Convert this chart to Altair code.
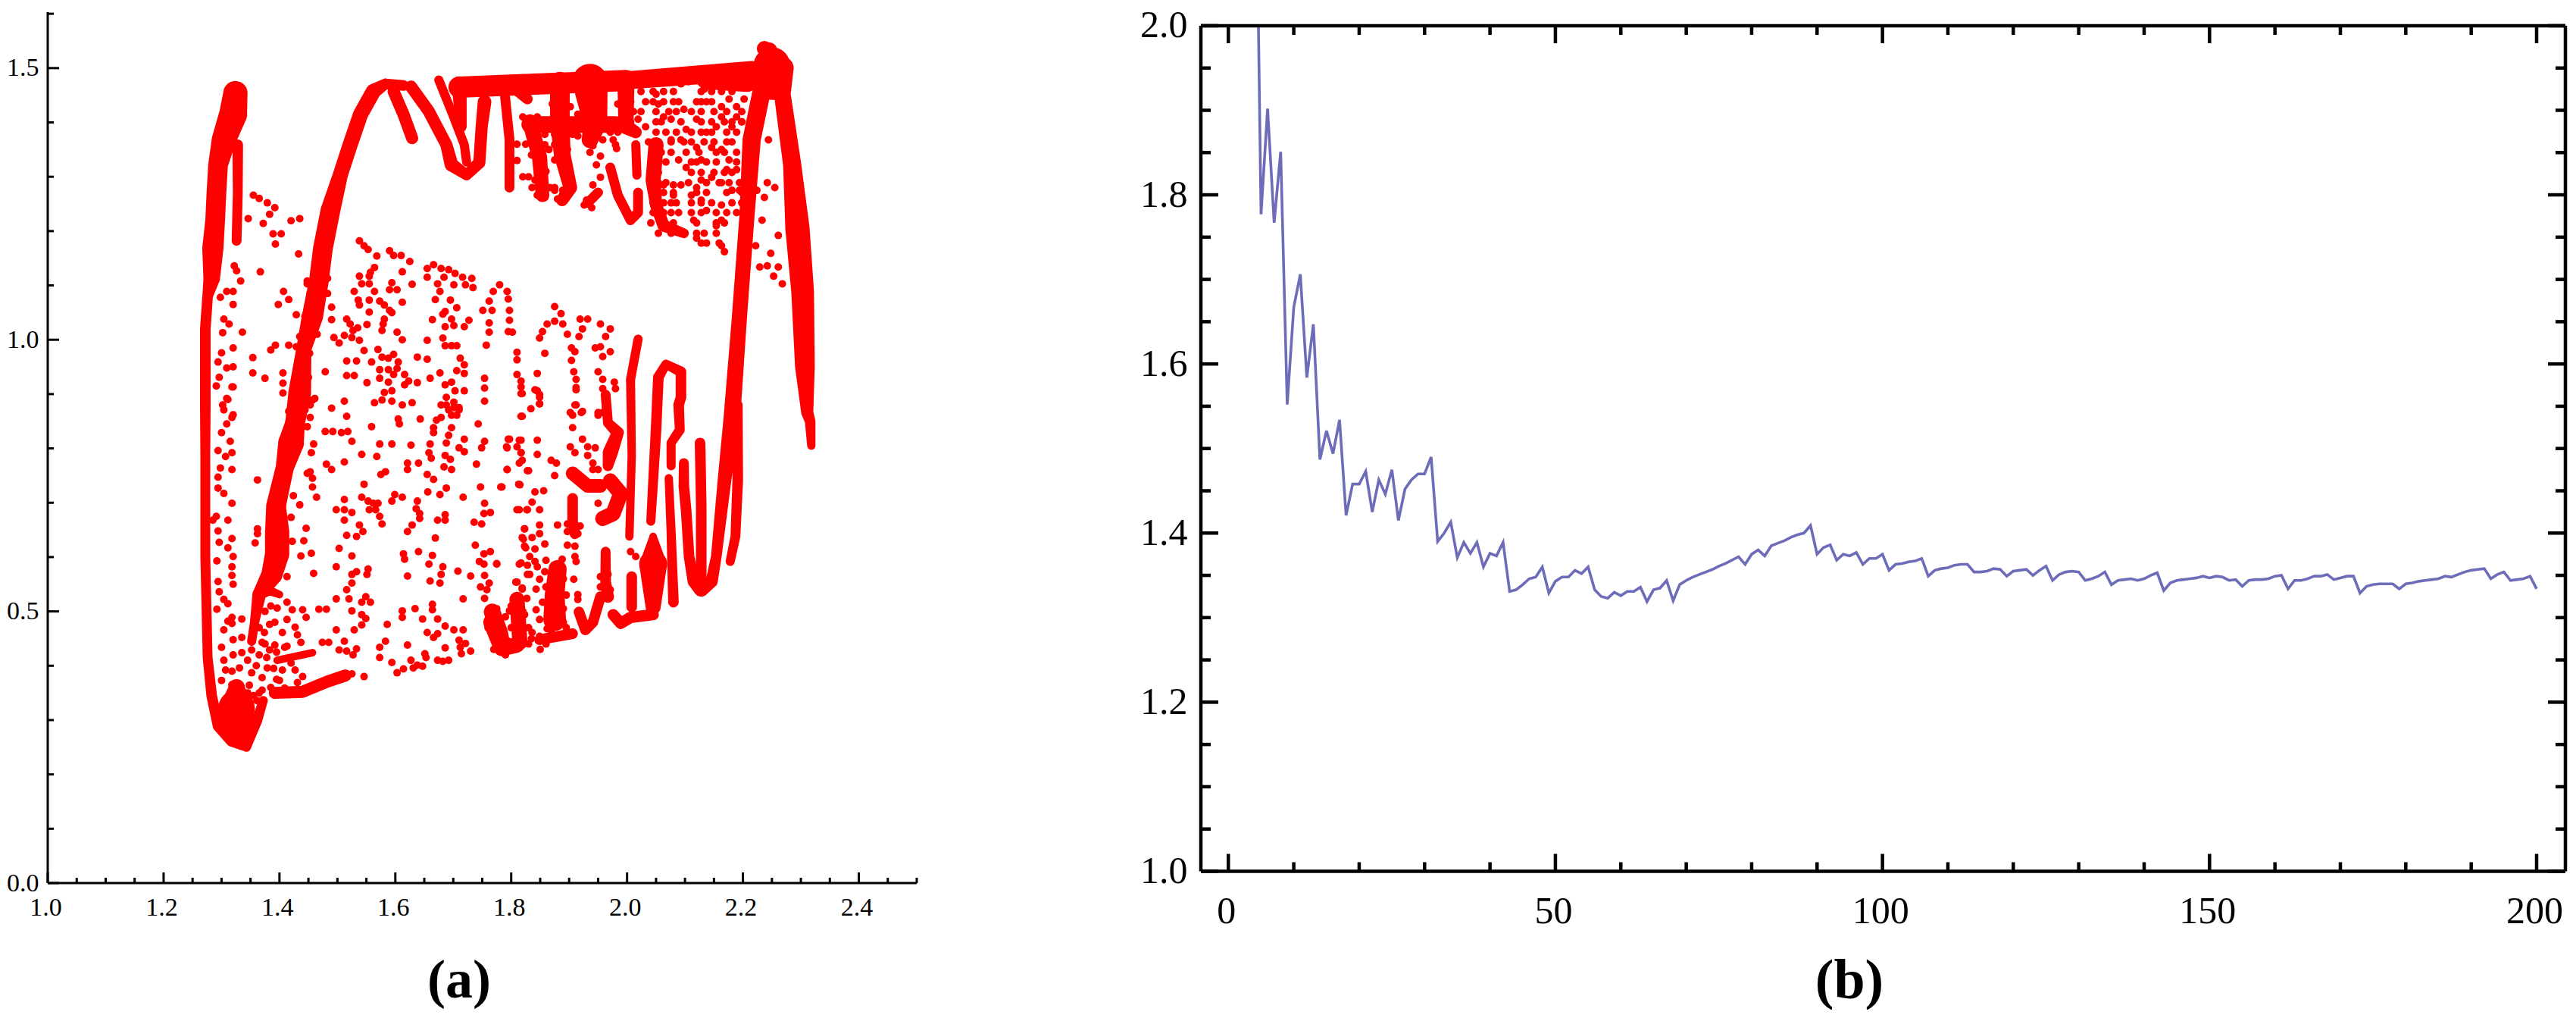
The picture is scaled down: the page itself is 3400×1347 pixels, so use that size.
import altair as alt
import pandas as pd

FONT = "Liberation Serif"
RED = "#ff0000"
BLUE = "#4747a6"

# ---------- panel (a): dense ribbons of the scatter as (x, y, ribbon width) ----------
band_left = [(1.324,1.454,30),(1.320,1.415,35),(1.304,1.368,30),(1.294,1.322,24),(1.291,1.266,24),(1.289,1.220,24),
             (1.285,1.168,26),(1.283,1.113,20),(1.276,1.080,12),(1.272,1.020,12),(1.272,.950,12),(1.272,.880,12),
             (1.272,.787,11),(1.272,.694,11),(1.272,.601,11),(1.274,.508,11),(1.276,.415,11),(1.283,.345,12),
             (1.294,.289,12),(1.318,.262,14),(1.343,.250,10),(1.361,.299,12),(1.372,.336,10)]
band_left2 = [(1.328,1.359,12),(1.328,1.270,11),(1.326,1.182,11)]
band_blob = [(1.326,.360,20),(1.326,.322,46),(1.328,.276,36),(1.342,.2575,12)]
band_floor = [(1.392,.350,14),(1.440,.352,14),(1.483,.371,14),(1.514,.382,14)]
band_floor2 = [(1.396,.410,8),(1.457,.424,8)]
band_loop = [(1.352,.445,10),(1.357,.480,10),(1.365,.531,12),(1.383,.538,10),(1.400,.531,8)]
band_rise = [(1.357,.480,10),(1.365,.531,16),(1.387,.568,26),(1.396,.606,30),(1.396,.647,30),(1.394,.694,24),
             (1.409,.764,22),(1.420,.810,32),(1.427,.847,24),(1.435,.903,28),(1.442,.983,18),(1.457,1.043,26),
             (1.468,1.108,24),(1.475,1.168,24),(1.488,1.238,24),(1.505,1.303,18),(1.522,1.359,18),(1.540,1.415,18),
             (1.562,1.457,18),(1.583,1.471,12),(1.614,1.468,12)]
band_b1 = [(1.597,1.457,14),(1.614,1.415,14),(1.629,1.371,14)]
band_b2 = [(1.627,1.466,14),(1.658,1.420,14),(1.688,1.359,14),(1.697,1.322,16),(1.723,1.303,12),(1.745,1.326,14),
           (1.749,1.392,14),(1.754,1.438,16)]
band_b3 = [(1.675,1.478,10),(1.697,1.420,10),(1.719,1.359,10),(1.723,1.327,10)]
band_top1 = [(1.710,1.465,26),(1.832,1.470,26),(1.998,1.477,26)]
band_bar2 = [(1.832,1.396,20),(1.980,1.396,20)]
band_b4 = [(1.788,1.462,11),(1.797,1.369,11),(1.797,1.280,11)]
band_b5 = [(1.788,1.475,10),(1.828,1.443,12)]
band_b6 = [(1.710,1.471,18),(1.714,1.392,12)]
band_t1 = [(1.884,1.475,24),(1.884,1.401,24),(1.888,1.341,20),(1.902,1.280,16),(1.888,1.257,14)]
band_t2 = [(1.832,1.401,18),(1.849,1.336,18),(1.854,1.266,16)]
band_t3 = [(1.936,1.475,45),(1.945,1.401,30),(1.936,1.368,20)]
band_t4 = [(1.998,1.461,20),(1.998,1.392,18),(2.015,1.382,14)]
band_t5 = [(1.971,1.317,11),(1.984,1.266,11),(2.006,1.220,11),(2.019,1.234,11),(2.019,1.271,11)]
band_t6 = [(1.932,1.252,11),(1.950,1.271,11)]
band_t7 = [(2.050,1.359,18),(2.045,1.294,18),(2.050,1.248,14),(2.063,1.210,14),(2.098,1.196,11)]
band_t8 = [(2.015,1.359,10),(2.017,1.303,10)]
band_top2 = [(2.006,1.478,22),(2.215,1.495,24)]
band_top3 = [(2.137,1.480,25),(2.207,1.475,25)]
band_peak = [(2.245,1.532,20),(2.250,1.505,46),(2.252,1.475,46)]
band_u = [(2.076,.768,10),(2.076,.810,10),(2.091,.834,11),(2.089,.880,12),(2.093,.894,12),(2.093,.941,12),
          (2.067,.955,10),(2.054,.931,12),(2.050,.834,12),(2.045,.740,11),(2.041,.666,10)]
band_up = [(2.098,.773,11),(2.098,.731,12),(2.102,.685,12),(2.107,.601,12),(2.115,.555,14),(2.128,.541,18),
           (2.146,.555,14),(2.154,.601,12),(2.168,.740,16),(2.181,.857,20),(2.194,1.043,18),(2.207,1.229,18),
           (2.215,1.368,22),(2.233,1.461,22),(2.242,1.527,20)]
band_down = [(2.237,1.536,18),(2.268,1.500,28),(2.268,1.452,20),(2.285,1.322,22),(2.294,1.206,30),(2.303,1.089,28),
             (2.307,.950,24),(2.311,.866,14),(2.316,.850,12),(2.318,.805,9)]
band_stem = [(2.126,.810,12),(2.128,.694,12),(2.128,.555,12)]
band_right = [(2.191,.880,11),(2.191,.740,12),(2.187,.638,11),(2.178,.592,10)]
band_s1 = [(2.019,1.001,10),(2.006,.927,10),(2.008,.787,9),(2.004,.638,9)]
band_s2 = [(2.072,.745,9),(2.076,.647,10),(2.080,.517,12)]
band_tri = [(2.045,.638,8),(2.045,.587,35),(2.045,.508,18)]
band_s3 = [(2.008,.564,12),(2.008,.508,12)]
band_fl1 = [(1.976,.494,13),(1.989,.478,13),(2.006,.489,13),(2.045,.494,13)]
band_fl2 = [(1.917,.499,12),(1.928,.466,12),(1.941,.480,12),(1.954,.527,12)]
band_s4 = [(1.963,.610,11),(1.963,.554,12),(1.967,.527,14)]
band_bl1 = [(1.880,.578,22),(1.875,.531,24),(1.875,.485,28)]
band_fl3 = [(1.849,.448,12),(1.906,.459,12)]
band_bl2 = [(1.767,.499,20),(1.780,.461,20),(1.784,.438,20)]
band_bl3 = [(1.810,.522,18),(1.815,.443,18)]
band_fl4 = [(1.766,.480,20),(1.784,.433,20),(1.810,.438,18)]
band_bl4 = [(1.906,.754,16),(1.932,.731,16),(1.954,.731,16)]
band_s5 = [(1.906,.708,12),(1.906,.666,12),(1.910,.643,12)]
band_bl5 = [(1.971,.740,18),(1.989,.717,18),(1.976,.680,18),(1.958,.671,18)]
band_s6 = [(1.963,.899,11),(1.967,.847,11),(1.984,.829,14),(1.971,.792,18),(1.967,.768,12)]
all_bands = [band_left, band_left2, band_blob, band_floor, band_floor2, band_loop, band_rise, band_b1, band_b2, band_b3,
             band_top1, band_bar2, band_b4, band_b5, band_b6, band_t1, band_t2, band_t3, band_t4, band_t5, band_t6, band_t7, band_t8,
             band_top2, band_top3, band_peak, band_u, band_up, band_down, band_stem, band_right, band_s1, band_s2, band_tri, band_s3,
             band_fl1, band_fl2, band_s4, band_bl1, band_fl3, band_bl2, band_bl3, band_fl4, band_bl4, band_s5, band_bl5, band_s6]

# ---------- panel (a): individual points ----------
dots_ul = [(1.355,1.266),(1.365,1.260),(1.379,1.252),(1.392,1.243),(1.383,1.231),(1.346,1.223),(1.372,1.214),(1.420,1.219),
           (1.435,1.223),(1.389,1.195),(1.403,1.195),(1.393,1.176),(1.433,1.158),(1.367,1.125),(1.407,1.089),(1.416,1.074),
           (1.398,1.065),(1.429,1.046),(1.336,1.014),(1.393,.990),(1.385,.981),(1.416,.990),(1.354,.967),(1.354,.939),
           (1.375,.929),(1.406,.939),(1.406,.920),(1.406,.902),(1.479,.941),(1.490,.874),(1.512,.887),(1.490,1.060),(1.490,1.037),
           (1.322,1.136),(1.326,1.127),(1.333,1.108),(1.309,1.089),(1.320,1.089),(1.320,1.065),(1.298,1.078),(1.304,1.038),
           (1.313,1.029),(1.302,1.013),(1.320,.985),(1.300,.976),(1.294,.959),(1.309,.948),(1.320,.950),(1.296,.931),(1.291,.915),
           (1.320,.913),(1.311,.890),(1.304,.871),(1.320,.862),(1.448,1.103),(1.483,1.113),(1.453,1.085),(1.483,1.085),
           (1.427,.894),(1.457,.889),(1.418,.871),(1.444,.871),(1.448,1.108),(1.444,1.043),(1.435,1.006),(1.429,.987),
           (1.440,.950),(1.431,.936),(1.450,.931),(1.462,1.063),(1.465,1.010),(1.452,.975),(1.444,.955),(1.460,1.020),(1.434,.960)]
dots_um = [(1.538,1.182),(1.546,1.173),(1.553,1.166),(1.568,1.154),(1.590,1.164),(1.597,1.155),(1.610,1.155),(1.625,1.144),
           (1.564,1.133),(1.557,1.124),(1.612,1.125),(1.538,1.117),(1.555,1.117),(1.542,1.103),(1.555,1.103),(1.594,1.105),
           (1.590,1.092),(1.603,1.092),(1.629,1.102),(1.655,1.131),(1.666,1.138),(1.679,1.131),(1.692,1.129),(1.703,1.122),
           (1.655,1.115),(1.673,1.103),(1.684,1.115),(1.701,1.101),(1.716,1.115),(1.732,1.113),(1.721,1.101),(1.734,1.096),
           (1.677,1.089),(1.529,1.089),(1.536,1.073),(1.538,1.064),(1.564,1.089),(1.555,1.073),(1.573,1.071),(1.581,1.064),
           (1.590,1.054),(1.594,1.050),(1.612,1.069),(1.555,1.051),(1.516,1.038),(1.522,1.029),(1.535,1.022),(1.551,1.028),
           (1.527,1.017),(1.581,1.038),(1.579,1.029),(1.577,1.017),(1.603,1.014),(1.612,1.000),(1.512,1.008),(1.494,1.004),
           (1.503,.994),(1.525,1.004),(1.538,.999),(1.546,.980),(1.516,.961),(1.533,.961),(1.516,.934),(1.529,.934),(1.551,.921),
           (1.564,.884),(1.577,.889),(1.570,.982),(1.577,.968),(1.559,.959),(1.588,.966),(1.597,.973),(1.605,.959),(1.573,.945),
           (1.588,.945),(1.603,.947),(1.573,.929),(1.588,.922),(1.597,.936),(1.638,.968),(1.655,.964),(1.660,.929),(1.677,.939),
           (1.616,.936),(1.616,.917),(1.623,.924),(1.638,.921),(1.686,.917),(1.697,.922),(1.703,.906),(1.719,.906),(1.581,.903),
           (1.594,.906),(1.594,.887),(1.612,.880),(1.629,.884),(1.664,1.037),(1.686,1.052),(1.682,1.047),(1.697,1.038),(1.706,1.059),
           (1.701,1.026),(1.719,1.024),(1.727,1.036),(1.686,1.024),(1.695,1.073),(1.655,.999),(1.669,1.074),(1.682,1.003),
           (1.686,.989),(1.706,.989),(1.697,.989),(1.712,.966),(1.719,.954),(1.706,.943),(1.719,.938),(1.757,.990),(1.751,1.054),
           (1.767,1.054),(1.762,1.071),(1.769,1.089),(1.780,1.101),(1.793,1.089),(1.795,1.075),(1.797,1.054),(1.797,1.036),
           (1.762,1.031),(1.762,1.014),(1.802,1.014),(1.795,1.015),(1.810,.977),(1.810,.963),(1.810,.936),(1.817,.924),(1.819,.901),
           (1.754,.929),(1.754,.911),(1.754,.887),(1.688,.894),(1.701,.885),(1.692,.871),(1.710,.871)]
dots_ll = [(1.318,.913),(1.309,.892),(1.302,.880),(1.318,.857),(1.309,.845),(1.300,.829),(1.315,.813),(1.294,.796),(1.318,.792),
           (1.307,.785),(1.298,.764),(1.318,.761),(1.294,.747),(1.294,.727),(1.304,.717),(1.318,.699),(1.291,.675),(1.285,.668),
           (1.311,.668),(1.294,.648),(1.318,.634),(1.296,.627),(1.311,.617),(1.320,.601),(1.292,.593),(1.318,.582),(1.318,.566),
           (1.320,.550),(1.294,.555),(1.296,.536),(1.304,.522),(1.311,.514),(1.292,.504),(1.318,.489),(1.311,.482),(1.318,.478),
           (1.304,.466),(1.320,.448),(1.335,.452),(1.335,.486),(1.362,.742),(1.362,.652),(1.362,.643),(1.358,.626),
           (1.335,.424),(1.352,.429),(1.370,.443),(1.383,.429),(1.409,.434),(1.331,.396),(1.352,.387),(1.370,.378),(1.379,.396),
           (1.405,.392),(1.427,.392),(1.431,.369),(1.400,.373),(1.409,.359),(1.365,.350),(1.348,.364),(1.300,.434),(1.304,.410),
           (1.307,.392),(1.331,.364),(1.361,.336),(1.300,.373),(1.396,.506),(1.413,.517),(1.422,.503),(1.440,.503),(1.446,.489),
           (1.413,.485),(1.427,.471),(1.431,.457),(1.383,.476),(1.392,.480),(1.405,.461),(1.374,.461),(1.392,.438),(1.413,.436),
           (1.437,.443),(1.461,.892),(1.453,.880),(1.416,.868),(1.440,.868),(1.453,.857),(1.448,.840),(1.416,.847),(1.453,.757),
           (1.457,.745),(1.457,.729),(1.448,.754),(1.435,.696),(1.424,.713),(1.405,.694),(1.420,.673),(1.409,.652),(1.422,.629),
           (1.413,.564),(1.400,.587),(1.379,.573),(1.345,.410),(1.360,.400),(1.378,.415),(1.395,.425),(1.390,.395),(1.345,.350),
           (1.385,.360),(1.355,.345),(1.370,.355),(1.395,.375),(1.420,.405),(1.440,.380),(1.365,.420),(1.320,.420),(1.318,.390),
           (1.318,.365),(1.375,.500),(1.385,.510),(1.365,.470),(1.375,.440)]
dots_lm = [(1.516,.859),(1.559,.840),(1.605,.854),(1.607,.845),(1.643,.854),(1.743,.845),(1.479,.831),(1.492,.831),(1.507,.829),
           (1.518,.831),(1.525,.813),(1.459,.808),(1.455,.792),(1.573,.808),(1.594,.808),(1.627,.806),(1.542,.789),(1.568,.785),
           (1.512,.775),(1.481,.771),(1.490,.761),(1.621,.773),(1.621,.761),(1.575,.752),(1.583,.757),(1.546,.734),(1.655,.752),
           (1.666,.743),(1.656,.720),(1.677,.715),(1.688,.727),(1.717,.710),(1.464,.710),(1.512,.706),(1.498,.687),(1.512,.687),
           (1.525,.682),(1.512,.668),(1.542,.710),(1.553,.703),(1.562,.699),(1.570,.699),(1.555,.687),(1.566,.687),(1.573,.675),
           (1.577,.661),(1.599,.715),(1.594,.703),(1.612,.710),(1.638,.703),(1.636,.689),(1.642,.680),(1.642,.671),(1.673,.668),
           (1.686,.668),(1.686,.678),(1.629,.659),(1.621,.647),(1.538,.659),(1.544,.647),(1.533,.638),(1.516,.640),(1.669,.635),
           (1.503,.616),(1.525,.602),(1.614,.606),(1.616,.596),(1.640,.610),(1.664,.603),(1.658,.587),(1.437,.602),(1.455,.607),
           (1.442,.630),(1.446,.653),(1.498,.582),(1.459,.570),(1.533,.573),(1.525,.568),(1.553,.578),(1.551,.568),(1.682,.582),
           (1.679,.568),(1.677,.552),(1.621,.565),(1.660,.556),(1.708,.574),(1.730,.565),(1.525,.552),(1.516,.540),(1.498,.523),
           (1.520,.523),(1.549,.527),(1.542,.517),(1.557,.517),(1.717,.523),(1.468,.504),(1.481,.504),(1.525,.501),(1.542,.494),
           (1.549,.487),(1.542,.475),(1.529,.466),(1.498,.466),(1.634,.505),(1.664,.513),(1.664,.503),(1.612,.501),(1.612,.489),
           (1.586,.476),(1.647,.486),(1.673,.486),(1.686,.473),(1.701,.466),(1.717,.466),(1.655,.461),(1.666,.452),(1.673,.459),
           (1.474,.443),(1.485,.443),(1.512,.445),(1.503,.429),(1.516,.427),(1.527,.420),(1.533,.431),(1.573,.434),(1.583,.445),
           (1.573,.415),(1.621,.438),(1.686,.433),(1.594,.406),(1.614,.394),(1.603,.387),(1.651,.422),(1.653,.415),(1.627,.410),
           (1.638,.401),(1.647,.399),(1.631,.396),(1.673,.410),(1.682,.408),(1.692,.410),(1.710,.447),(1.721,.441),(1.714,.422),
           (1.730,.427),(1.712,.434),(1.546,.380),(1.525,.385),(1.738,.622),(1.753,.606),(1.764,.610),(1.745,.592),(1.753,.587),
           (1.775,.588),(1.754,.566),(1.762,.552),(1.747,.545),(1.758,.540),(1.754,.524),(1.736,.664),(1.749,.661),(1.753,.680),
           (1.764,.682),(1.754,.699),(1.747,.729),(1.782,.729),(1.815,.733),(1.740,.771),(1.793,.761),(1.828,.759),(1.792,.803),
           (1.797,.817),(1.817,.815),(1.810,.803),(1.817,.792),(1.819,.778),(1.749,.801),(1.754,.813),(1.819,.859),(1.810,.554),
           (1.819,.543),(1.828,.568),(1.828,.585),(1.817,.589),(1.823,.652),(1.821,.633),(1.825,.617),(1.810,.687),(1.828,.687),
           (1.679,.880),(1.688,.880),(1.701,.875),(1.710,.875),(1.697,.861),(1.706,.861),(1.679,.857),(1.671,.852),(1.666,.838),
           (1.697,.838),(1.666,.829),(1.692,.824),(1.660,.808),(1.658,.792),(1.662,.782),(1.640,.773),(1.688,.810),(1.686,.787),
           (1.695,.780),(1.684,.766),(1.697,.761),(1.710,.801),(1.719,.794),(1.719,.817)]
dots_lr = [(1.912,.912),(1.910,.880),(1.906,.861),(1.923,.868),(1.906,.838),(1.923,.817),(1.932,.803),(1.945,.801),(1.932,.787),
           (1.902,.803),(1.910,.792),(1.941,.773),(1.941,.761),(1.950,.761),(1.950,.866),(1.958,.866),(1.950,.699),(1.880,.659),
           (1.897,.661),(1.919,.657),(1.915,.643),(1.897,.647),(1.897,.622),(1.910,.620),(1.910,.601),(1.912,.592),(1.888,.596),
           (1.963,.585),(1.954,.564),(1.967,.568),(1.954,.545),(1.971,.540),(1.915,.531),(1.915,.522),(1.908,.559),(1.823,.652),
           (1.819,.636),(1.836,.636),(1.849,.659),(1.849,.643),(1.858,.624),(1.823,.620),(1.841,.615),(1.832,.601),(1.814,.587),
           (1.841,.592),(1.860,.594),(1.845,.582),(1.832,.568),(1.858,.573),(1.849,.559),(1.808,.554),(1.819,.541),(1.843,.541),
           (1.827,.524),(1.810,.527),(1.854,.517),(1.843,.503),(1.862,.513),(1.823,.494),(1.819,.485),(1.797,.501),(1.849,.485),
           (1.836,.461),(1.862,.468),(1.849,.454),(1.814,.815),(1.817,.792),(1.814,.773),(1.793,.801),(1.795,.817),(1.845,.815),
           (1.845,.789),(1.793,.761),(1.830,.759),(1.869,.778),(1.878,.773),(1.875,.750),(1.784,.729),(1.813,.734),(1.841,.720),
           (1.856,.722),(1.836,.701),(1.814,.687),(1.827,.687),(1.849,.687),(1.817,.913),(1.817,.901),(1.841,.908),(1.849,.899),
           (1.849,.882),(1.834,.873),(1.817,.859),(1.775,.587),(2.006,.610),(2.015,.601),
           (1.875,1.061),(1.886,1.048),(1.875,1.034),(1.862,1.029),(1.854,1.015),(1.849,1.003),(1.889,1.029),(1.897,1.010),
           (1.919,1.038),(1.932,1.038),(1.923,1.020),(1.917,1.006),(1.954,1.029),(1.971,1.020),(1.963,1.006),(1.954,.987),
           (1.945,.985),(1.971,.978),(1.958,.969),(1.904,.985),(1.910,.978),(1.904,.962),(1.858,.975),(1.845,.938),(1.845,.906),
           (1.849,.894),(1.849,.882),(1.908,.941),(1.912,.927),(1.912,.908),(1.950,.941),(1.958,.927),(1.958,.910),(1.978,.922),
           (1.980,.910),(1.912,.880),(1.902,.866),(1.921,.866),(1.963,.894),(1.963,.871),(1.950,.861),
           (1.760,.470),(1.775,.505),(1.790,.490),(1.800,.470),(1.830,.440),(1.790,.420),(1.770,.430),(1.820,.500),(1.800,.510),
           (1.830,.470),(1.860,.440),(1.850,.430),(1.870,.460),(1.895,.470),(1.795,.445),(1.835,.450),(1.890,.505),(1.895,.530),
           (1.860,.545),(1.890,.560),(1.865,.500),(1.890,.480)]
dots_top = [(2.024,1.457),(2.032,1.438),(2.050,1.452),(2.054,1.434),(2.076,1.475),(2.093,1.471),(2.106,1.475),(2.133,1.461),
            (2.120,1.438),(2.137,1.438),(2.089,1.438),(2.098,1.424),(2.063,1.410),(2.076,1.406),(2.024,1.420),(2.032,1.392),
            (2.102,1.387),(2.120,1.406),(2.137,1.382),(2.146,1.401),(2.163,1.429),(2.189,1.429),(2.163,1.410),(2.189,1.410),
            (2.154,1.392),(2.181,1.392),(2.198,1.401),(2.202,1.443),(2.176,1.443),(2.019,1.406),(2.111,1.364),(2.120,1.354),
            (2.093,1.368),(2.076,1.368),(2.089,1.331),(2.102,1.317),(2.111,1.327),(2.128,1.331),(2.146,1.354),(2.163,1.350),
            (2.176,1.331),(2.172,1.313),(2.189,1.313),(2.163,1.289),(2.146,1.299),(2.128,1.294),(2.093,1.285),(2.080,1.285),
            (2.063,1.285),(2.111,1.266),(2.120,1.280),(2.181,1.275),(2.194,1.275),(2.128,1.257),(2.137,1.238),(2.163,1.248),
            (2.163,1.220),(2.154,1.210),(2.115,1.220),(2.120,1.187),(2.137,1.178),(2.163,1.173),(2.168,1.162),(2.085,1.252),
            (2.080,1.266),(2.089,1.234),(2.224,1.275),(2.255,1.280),(2.242,1.289),(2.237,1.262),(2.233,1.220),(2.261,1.192),
            (2.222,1.173),(2.248,1.159),(2.229,1.134),(2.242,1.136),(2.253,1.117),(2.268,1.103),(2.261,1.134),(2.244,1.368),
            (1.915,1.375),(1.906,1.378),(1.941,1.357),(1.982,1.352),(1.947,1.322),(1.954,1.338),(1.941,1.285),(1.954,1.299),
            (2.017,1.327),(2.015,1.350),(1.980,1.359),(1.984,1.434),(1.993,1.415),(1.902,1.429),(1.915,1.415),(1.926,1.392),
            (1.950,1.396),(1.867,1.280),(1.875,1.280),(1.845,1.266),(1.858,1.262),(1.880,1.259),(1.891,1.257),(1.926,1.248),
            (1.939,1.243),(1.930,1.257),(1.836,1.280),(1.889,1.275),(1.897,1.280),(1.902,1.299),(1.895,1.317),(1.875,1.331),
            (1.841,1.350),(1.845,1.331),(1.897,1.350),(1.810,1.360),(1.810,1.330),(1.820,1.300),(1.830,1.300),(1.825,1.360),
            (1.835,1.340),(1.820,1.410),(1.845,1.410),(1.860,1.310),(1.865,1.350),(1.870,1.390)]
dots_lattice = [(2.006,1.457),(2.045,1.457),(2.063,1.457),(2.080,1.457),(2.128,1.457),(2.146,1.457),(2.163,1.457),(2.181,1.457),
                (2.006,1.438),(2.045,1.438),(2.063,1.438),(2.080,1.438),(2.128,1.438),(2.146,1.438),
                (2.011,1.420),(2.050,1.420),(2.072,1.420),(2.085,1.420),(2.111,1.420),(2.128,1.420),(2.150,1.420),(2.172,1.420),(2.198,1.420),
                (2.006,1.401),(2.050,1.401),(2.059,1.401),(2.093,1.401),(2.128,1.401),(2.168,1.401),(2.181,1.401),(2.198,1.401),
                (2.015,1.382),(2.050,1.382),(2.067,1.382),(2.085,1.382),(2.111,1.382),(2.128,1.382),(2.146,1.382),(2.172,1.382),(2.189,1.382),
                (2.037,1.364),(2.054,1.364),(2.076,1.364),(2.098,1.364),(2.133,1.364),(2.150,1.364),(2.172,1.364),(2.181,1.364),
                (2.045,1.345),(2.059,1.345),(2.076,1.345),(2.102,1.345),(2.124,1.345),(2.154,1.345),(2.168,1.345),(2.189,1.345),
                (2.041,1.327),(2.054,1.327),(2.067,1.327),(2.120,1.327),(2.137,1.327),(2.154,1.327),(2.189,1.327),
                (2.041,1.308),(2.054,1.308),(2.111,1.308),(2.128,1.308),(2.150,1.308),(2.168,1.308),(2.181,1.308),
                (2.041,1.289),(2.054,1.289),(2.067,1.289),(2.106,1.289),(2.137,1.289),(2.159,1.289),(2.176,1.289),(2.194,1.289),
                (2.045,1.271),(2.063,1.271),(2.080,1.271),(2.120,1.271),(2.137,1.271),(2.172,1.271),(2.198,1.271),
                (2.045,1.252),(2.063,1.252),(2.076,1.252),(2.111,1.252),(2.128,1.252),(2.146,1.252),(2.181,1.252),(2.198,1.252),
                (2.045,1.234),(2.063,1.234),(2.076,1.234),(2.111,1.234),(2.128,1.234),(2.154,1.234),(2.172,1.234),(2.189,1.234),
                (2.041,1.215),(2.059,1.215),(2.080,1.215),(2.120,1.215),(2.154,1.215),(2.168,1.215),
                (2.054,1.196),(2.076,1.196),(2.093,1.196),(2.120,1.196),(2.133,1.196),(2.154,1.196),(2.128,1.178),(2.159,1.178),
                (1.871,1.461),(1.871,1.434),(1.871,1.406),(1.875,1.378),(1.858,1.378),(1.841,1.378),(1.858,1.359),(1.875,1.359),
                (1.849,1.303),(1.841,1.294),(1.858,1.280),(1.875,1.275),(1.893,1.378),(1.906,1.396),(1.928,1.452),(1.954,1.452),
                (1.928,1.420),(1.954,1.420),(1.963,1.392),(1.971,1.382),(1.984,1.382),(2.006,1.438),(1.989,1.461),(1.963,1.471),
                (1.932,1.368),(1.958,1.368),(1.976,1.368),(1.936,1.345)]
all_dots = dots_ul + dots_um + dots_ll + dots_lm + dots_lr + dots_top + dots_lattice

# ---------- panel (b): line ----------
line_x = [4.6] + list(range(5, 201))
line_y = [2.0,1.777,1.902,1.767,1.851,1.552,1.667,1.706,1.584,1.647,1.487,1.521,1.494,1.534,1.421,
          1.458,1.458,1.473,1.425,1.463,1.446,1.475,1.415,1.452,1.463,1.470,1.470,1.490,1.390,1.400,1.413,1.371,1.389,1.376,1.389,1.360,
          1.376,1.373,1.389,1.331,1.333,1.339,1.346,1.348,1.360,1.329,1.343,1.348,1.348,1.356,1.352,1.360,1.333,1.325,1.323,1.330,1.326,1.331,
          1.331,1.336,1.319,1.333,1.335,1.344,1.320,1.339,1.344,1.348,1.351,1.354,1.357,1.361,1.364,1.368,1.372,1.363,1.375,1.380,1.373,1.385,
          1.388,1.391,1.395,1.398,1.400,1.409,1.375,1.383,1.386,1.368,1.375,1.373,1.377,1.363,1.370,1.370,1.375,1.356,1.363,1.364,1.366,
          1.367,1.370,1.349,1.356,1.358,1.359,1.362,1.363,1.363,1.354,1.354,1.355,1.358,1.357,1.349,1.355,1.356,1.357,1.350,1.356,1.361,
          1.344,1.351,1.354,1.355,1.354,1.344,1.346,1.349,1.354,1.339,1.344,1.345,1.346,1.344,1.346,1.350,1.353,1.332,1.341,1.344,1.345,1.346,
          1.347,1.349,1.347,1.349,1.348,1.344,1.345,1.337,1.344,1.345,1.345,1.346,1.349,1.350,1.334,1.344,1.344,1.346,1.349,1.349,1.351,1.345,
          1.347,1.349,1.349,1.329,1.337,1.339,1.340,1.340,1.340,1.334,1.340,1.341,1.343,1.344,1.345,1.346,1.349,1.348,1.351,1.354,1.356,1.357,
          1.358,1.346,1.351,1.354,1.344,1.345,1.346,1.349,1.334]

# ---------- ticks and labels ----------
a_x_major = [1.0,1.2,1.4,1.6,1.8,2.0,2.2,2.4]
a_x_minor = [1.05,1.1,1.15,1.25,1.3,1.35,1.45,1.5,1.55,1.65,1.7,1.75,1.85,1.9,1.95,2.05,2.1,2.15,2.25,2.3,2.35,2.45,2.5]
a_y_major = [0.0,0.5,1.0,1.5]
a_y_minor = [0.1,0.2,0.3,0.4,0.6,0.7,0.8,0.9,1.1,1.2,1.3,1.4,1.6]
b_x_major = [0,50,100,150,200]
b_x_minor = [10,20,30,40,60,70,80,90,110,120,130,140,160,170,180,190]
b_y_major = [1.0,1.2,1.4,1.6,1.8,2.0]
b_y_minor = [1.05,1.1,1.15,1.25,1.3,1.35,1.45,1.5,1.55,1.65,1.7,1.75,1.85,1.9,1.95]

A_W, A_H = 1147, 1149
B_W, B_H = 1801, 1149
ax_scale = alt.Scale(domain=[1.0, 2.5], nice=False, zero=False)
ay_scale = alt.Scale(domain=[0.0, 1.603], nice=False, zero=False)
bx_scale = alt.Scale(domain=[-4.2, 204.4], nice=False, zero=False)
by_scale = alt.Scale(domain=[0.9861, 2.0161], nice=False, zero=False)
B_TOP, B_BOT = 18, 1133.5


def make_axis(values, fmt, size, padding, offset=0):
    return alt.Axis(values=values, format=fmt, domain=False, ticks=False, grid=False, labelFont=FONT, title=None,
                    labelFontSize=size, labelPadding=padding, labelOffset=offset, labelColor="black", labelFlush=False)


ax_axis = make_axis(a_x_major, ".1f", 34, 15, -3)
ay_axis = make_axis(a_y_major, ".1f", 34, 12)
bx_axis = make_axis(b_x_major, "d", 50, 12, -3)
by_axis = make_axis(b_y_major, ".1f", 50, 18)


def frame(vals):
    return pd.DataFrame({"v": vals})


def vticks(vals, scale, axis, top, length, width):
    return alt.Chart(frame(vals)).mark_rule(color="black", strokeWidth=width).encode(
        x=alt.X("v:Q", scale=scale, axis=axis), y=alt.value(top), y2=alt.value(top + length))


def hticks(vals, scale, axis, left, length, width):
    return alt.Chart(frame(vals)).mark_rule(color="black", strokeWidth=width).encode(
        y=alt.Y("v:Q", scale=scale, axis=axis), x=alt.value(left), x2=alt.value(left + length))


band_rows = [dict(b=i, i_=j, x=p[0], y=p[1], w=p[2]) for i, band in enumerate(all_bands) for j, p in enumerate(band)]
a_bands = alt.Chart(pd.DataFrame(band_rows)).mark_trail(color=RED, stroke=RED, strokeWidth=2).encode(
    x=alt.X("x:Q", scale=ax_scale, axis=ax_axis),
    y=alt.Y("y:Q", scale=ay_scale, axis=ay_axis),
    detail="b:N", order="i_:Q", size=alt.Size("w:Q", scale=None, legend=None))
a_dots = alt.Chart(pd.DataFrame(all_dots, columns=["x", "y"])).mark_circle(color=RED, size=100, opacity=1).encode(
    x=alt.X("x:Q", scale=ax_scale, axis=ax_axis), y=alt.Y("y:Q", scale=ay_scale, axis=ay_axis))
a_cap = alt.Chart(pd.DataFrame({"t": ["(a)"]})).mark_text(font=FONT, fontSize=72, fontWeight="bold", color="black").encode(
    text="t:N", x=alt.value(543), y=alt.value(1278))
panel_a = alt.layer(
    a_bands, a_dots,
    vticks(a_x_major, ax_scale, ax_axis, A_H, -14, 3), vticks(a_x_minor, ax_scale, ax_axis, A_H, -7, 3),
    hticks(a_y_major, ay_scale, ay_axis, 0, 15, 3), hticks(a_y_minor, ay_scale, ay_axis, 0, 8, 3),
    vticks([1.0], ax_scale, ax_axis, 0, A_H, 3), hticks([0.0], ay_scale, ay_axis, 0, A_W, 3),
    a_cap,
).properties(width=A_W, height=A_H)

b_line = alt.Chart(pd.DataFrame({"x": line_x, "y": line_y})).mark_line(color=BLUE, strokeWidth=3.6, opacity=0.8).encode(
    x=alt.X("x:Q", scale=bx_scale, axis=bx_axis),
    y=alt.Y("y:Q", scale=by_scale, axis=by_axis))
b_cap = alt.Chart(pd.DataFrame({"t": ["(b)"]})).mark_text(font=FONT, fontSize=74, fontWeight="bold", color="black").encode(
    text="t:N", x=alt.value(856), y=alt.value(1279))
panel_b = alt.layer(
    b_line,
    vticks(b_x_major, bx_scale, bx_axis, B_BOT, -23, 4.5), vticks(b_x_minor, bx_scale, bx_axis, B_BOT, -12, 4.5),
    vticks(b_x_major, bx_scale, bx_axis, B_TOP, 23, 4.5), vticks(b_x_minor, bx_scale, bx_axis, B_TOP, 12, 4.5),
    hticks(b_y_major, by_scale, by_axis, 0, 23, 4.5), hticks(b_y_minor, by_scale, by_axis, 0, 13, 4.5),
    hticks(b_y_major, by_scale, by_axis, B_W, -23, 4.5), hticks(b_y_minor, by_scale, by_axis, B_W, -13, 4.5),
    hticks([1.0, 2.0], by_scale, by_axis, 0, B_W, 4.5),
    vticks([-4.2, 204.4], bx_scale, bx_axis, B_TOP, B_BOT - B_TOP, 4.5),
    b_cap,
).properties(width=B_W, height=B_H)

chart = alt.hconcat(panel_a, panel_b, spacing=292).properties(padding=0, background="white").configure_view(stroke=None)
chart.save("out.html", embed_options={"renderer": "svg", "actions": False})
